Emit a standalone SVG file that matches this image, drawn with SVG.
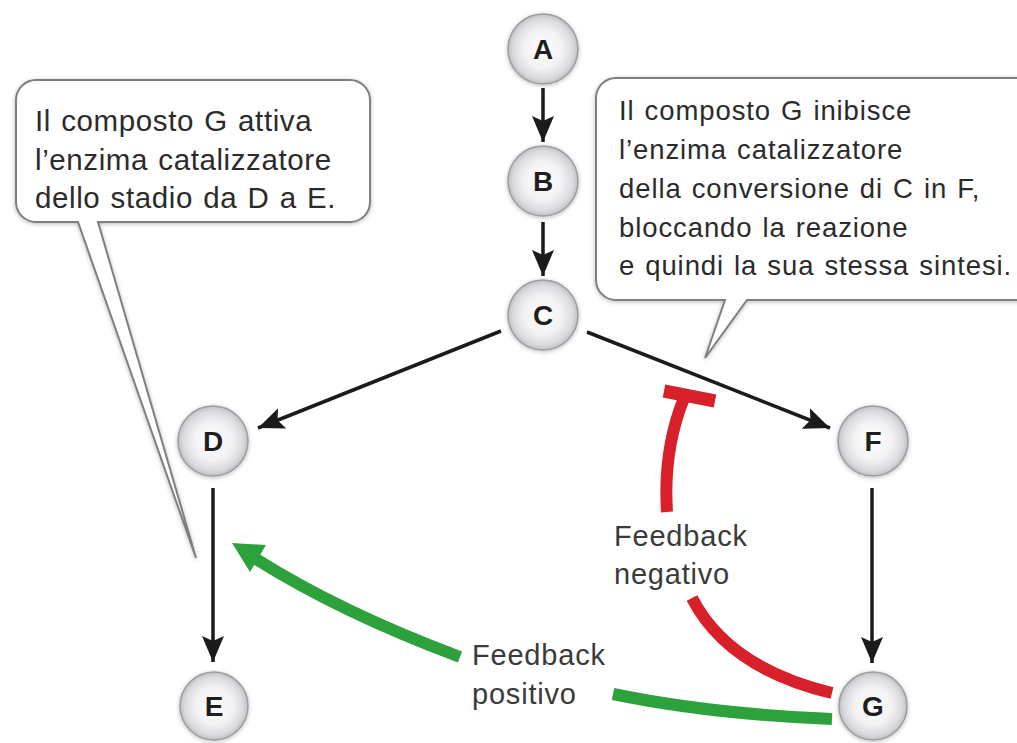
<svg xmlns="http://www.w3.org/2000/svg" width="1017" height="743" viewBox="0 0 1017 743">
  <defs>
    <radialGradient id="ball" cx="50%" cy="50%" r="50%">
      <stop offset="0" stop-color="#ffffff"/>
      <stop offset="0.55" stop-color="#f2f1f3"/>
      <stop offset="0.85" stop-color="#dcdadf"/>
      <stop offset="1" stop-color="#c2c0c5"/>
    </radialGradient>
    <filter id="soft" x="-20%" y="-20%" width="140%" height="140%">
      <feDropShadow dx="0" dy="1" stdDeviation="2.2" flood-color="#000" flood-opacity="0.28"/>
    </filter>
    <marker id="head" markerUnits="userSpaceOnUse" markerWidth="28" markerHeight="22" refX="26" refY="11" orient="auto">
      <path d="M0,0 L26,11 L0,22 L5,11 Z" fill="#1b1b1b"/>
    </marker>
    <style>
      .node circle { fill: url(#ball); stroke: #9d9ca0; stroke-width: 1.5; filter: url(#soft); }
      .node text { font-family: "Liberation Sans", Arial, sans-serif; font-weight: bold; font-size: 28px; fill: #1e1e1e; text-anchor: middle; }
      .callout path { fill: #ffffff; stroke: #7f7f7f; stroke-width: 2; filter: url(#soft); }
      .callout text, .label text { font-family: "Liberation Sans", Arial, sans-serif; fill: #2b2b2b; }
      #callout-left text { font-size: 29.5px; letter-spacing: 0.6px; word-spacing: 1.5px; }
      #callout-right text { font-size: 27.5px; letter-spacing: 0.9px; word-spacing: 1.5px; }
      .label text { font-size: 29px; letter-spacing: 0.8px; fill: #3a3a3a; }
      .flow { stroke: #1b1b1b; stroke-width: 3.5; fill: none; marker-end: url(#head); }
      .neg { stroke: #d8202a; stroke-width: 12; fill: none; }
      .pos { stroke: #2da23c; stroke-width: 12; fill: none; }
    </style>
  </defs>

  <rect width="1017" height="743" fill="#ffffff"/>

  <!-- speech bubbles -->
  <g id="callout-left" class="callout">
    <path d="M36 80 H350 A20 20 0 0 1 370 100 V202 A20 20 0 0 1 350 222 H98 L196 558 L78 222 H36 A20 20 0 0 1 16 202 V100 A20 20 0 0 1 36 80 Z"/>
    <text x="35" y="131">Il composto G attiva</text>
    <text x="35" y="170">l’enzima catalizzatore</text>
    <text x="35" y="208">dello stadio da D a E.</text>
  </g>
  <g id="callout-right" class="callout">
    <path d="M616 78 H1040 V300 H747 L705 358 L725 300 H616 A20 20 0 0 1 596 280 V98 A20 20 0 0 1 616 78 Z"/>
    <text x="619" y="120">Il composto G inibisce</text>
    <text x="619" y="159">l’enzima catalizzatore</text>
    <text x="619" y="198">della conversione di C in F,</text>
    <text x="619" y="237">bloccando la reazione</text>
    <text x="619" y="275">e quindi la sua stessa sintesi.</text>
  </g>

  <!-- connectors -->
  <g id="connectors">
    <line class="flow" x1="543" y1="88" x2="543" y2="142"/>
    <line class="flow" x1="543" y1="222" x2="543" y2="276"/>
    <line class="flow" x1="501" y1="331" x2="258" y2="428"/>
    <line class="flow" x1="587" y1="332" x2="830" y2="428"/>
    <line class="flow" x1="213" y1="488" x2="213" y2="662"/>
    <line class="flow" x1="872" y1="488" x2="872" y2="663"/>

    <!-- negative feedback: G inhibits C to F -->
    <path class="neg" d="M832 693 Q728 668 692 598"/>
    <path class="neg" d="M667 512 Q663 450 684 398"/>
    <line x1="664" y1="391" x2="715" y2="401" stroke="#d8202a" stroke-width="13"/>

    <!-- positive feedback: G activates D to E -->
    <path class="pos" d="M832 719 Q710 714 613 694"/>
    <path class="pos" d="M460 657 Q340 612 256 559"/>
    <polygon points="232,543 266,545 250,572" fill="#2da23c"/>
  </g>

  <!-- nodes -->
  <g id="node-A" class="node"><circle cx="543" cy="49" r="35"/><text x="543" y="59">A</text></g>
  <g id="node-B" class="node"><circle cx="543" cy="181" r="35"/><text x="543" y="191">B</text></g>
  <g id="node-C" class="node"><circle cx="543" cy="315" r="35"/><text x="543" y="325">C</text></g>
  <g id="node-D" class="node"><circle cx="213" cy="441" r="35"/><text x="213" y="451">D</text></g>
  <g id="node-F" class="node"><circle cx="873" cy="441" r="35"/><text x="873" y="451">F</text></g>
  <g id="node-E" class="node"><circle cx="214" cy="706" r="34"/><text x="214" y="716">E</text></g>
  <g id="node-G" class="node"><circle cx="873" cy="706" r="34"/><text x="873" y="716">G</text></g>

  <!-- feedback labels -->
  <g id="label-negative" class="label">
    <text x="614" y="546">Feedback</text>
    <text x="614" y="584">negativo</text>
  </g>
  <g id="label-positive" class="label">
    <text x="472" y="665">Feedback</text>
    <text x="472" y="704">positivo</text>
  </g>
</svg>
